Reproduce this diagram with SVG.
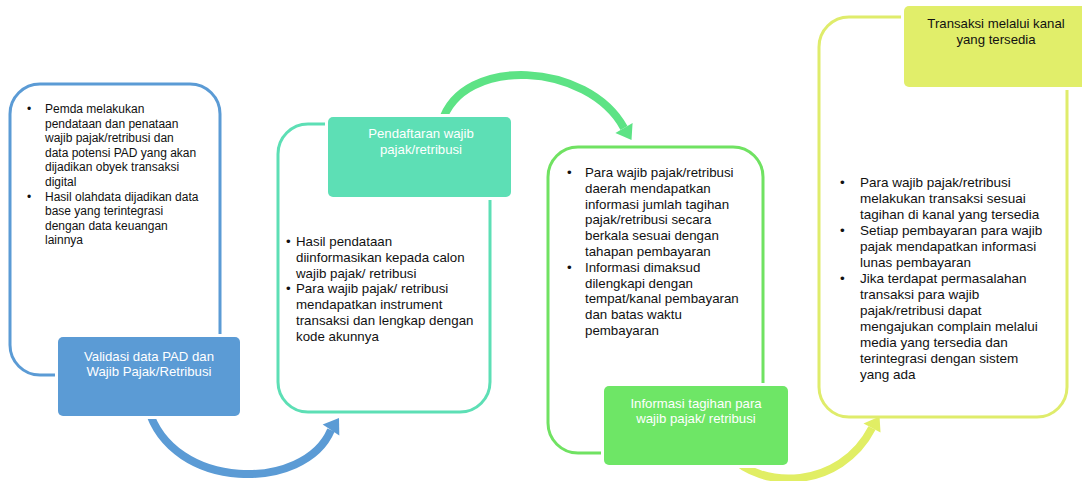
<svg xmlns="http://www.w3.org/2000/svg" width="1082" height="481" viewBox="0 0 1082 481">
<style>
text{font-family:"Liberation Sans",Arial,sans-serif;fill:#111}
.t1{font-size:12px}
.t2{font-size:13.3px}
.t4{font-size:13.5px}
.lbl{font-size:13.2px;text-anchor:middle;fill:#fff}
.lbl.dark{fill:#111}
.frame{fill:#fff;stroke-width:3}
.tab{stroke:#fff;stroke-width:6;paint-order:stroke}
.arc{fill:none;stroke-width:8}
</style>
<rect width="1082" height="481" fill="#fff"/>
<g id="connectors">
<path class="arc" stroke="#5B9BD5" d="M148,408 C172,492 305,492 331,430"/>
<polygon fill="#5B9BD5" points="322.7,424.4 339.3,435.6 339,418"/>
<path class="arc" stroke="#5DE385" d="M442,122 C462,55 588,62 624,128"/>
<polygon fill="#5DE385" points="615.4,133 632.6,123 631.5,140"/>
<path class="arc" stroke="#E1EE64" d="M730,455 C760,490 840,490 872,428"/>
<polygon fill="#E1EE64" points="863.5,423.5 880.5,432.5 879.5,416.5"/>
</g>
<g id="node1">
<rect class="frame" x="10" y="84" width="210" height="291" rx="30" stroke="#5B9BD5"/>
<g class="t1">
<text x="27" y="113">•</text><text x="45" y="113">Pemda melakukan</text>
<text x="45" y="127.6">pendataan dan penataan</text>
<text x="45" y="142.2">wajib pajak/retribusi dan</text>
<text x="45" y="156.8">data potensi PAD yang akan</text>
<text x="45" y="171.4">dijadikan obyek transaksi</text>
<text x="45" y="186">digital</text>
<text x="27" y="200.6">•</text><text x="45" y="200.6">Hasil olahdata dijadikan data</text>
<text x="45" y="215.2">base yang terintegrasi</text>
<text x="45" y="229.8">dengan data keuangan</text>
<text x="45" y="244.4">lainnya</text>
</g>
<rect class="tab" x="58" y="337" width="182" height="79" rx="5" fill="#5B9BD5"/>
<text class="lbl" x="149" y="360.5">Validasi data PAD dan</text>
<text class="lbl" x="149" y="375.5">Wajib Pajak/Retribusi</text>
</g>
<g id="node2">
<rect class="frame" x="278" y="124" width="212" height="288" rx="30" stroke="#5DDFB5"/>
<g class="t2">
<text x="286" y="246">•</text><text x="296" y="246">Hasil pendataan</text>
<text x="296" y="261.8">diinformasikan kepada calon</text>
<text x="296" y="277.6">wajib pajak/ retribusi</text>
<text x="286" y="293.4">•</text><text x="296" y="293.4">Para wajib pajak/ retribusi</text>
<text x="296" y="309.2">mendapatkan instrument</text>
<text x="296" y="325">transaksi dan lengkap dengan</text>
<text x="296" y="340.8">kode akunnya</text>
</g>
<rect class="tab" x="328" y="117" width="183" height="80" rx="5" fill="#5DDFB5"/>
<text class="lbl" x="421" y="138">Pendaftaran wajib</text>
<text class="lbl" x="421" y="154">pajak/retribusi</text>
</g>
<g id="node3">
<rect class="frame" x="548" y="147" width="215" height="306" rx="30" stroke="#70E262"/>
<g class="t2">
<text x="567" y="177">•</text><text x="585" y="177">Para wajib pajak/retribusi</text>
<text x="585" y="192.8">daerah mendapatkan</text>
<text x="585" y="208.6">informasi jumlah tagihan</text>
<text x="585" y="224.4">pajak/retribusi secara</text>
<text x="585" y="240.2">berkala sesuai dengan</text>
<text x="585" y="256">tahapan pembayaran</text>
<text x="567" y="271.8">•</text><text x="585" y="271.8">Informasi dimaksud</text>
<text x="585" y="287.6">dilengkapi dengan</text>
<text x="585" y="303.4">tempat/kanal pembayaran</text>
<text x="585" y="319.2">dan batas waktu</text>
<text x="585" y="335">pembayaran</text>
</g>
<rect class="tab" x="604" y="386" width="184" height="79" rx="5" fill="#6EE666"/>
<text class="lbl" x="696" y="408">Informasi tagihan para</text>
<text class="lbl" x="696" y="423">wajib pajak/ retribusi</text>
</g>
<g id="node4">
<rect class="frame" x="819" y="17" width="248" height="400" rx="30" stroke="#DFEC6B"/>
<g class="t4">
<text x="840" y="186.5">•</text><text x="860" y="186.5">Para wajib pajak/retribusi</text>
<text x="860" y="202.5">melakukan transaksi sesuai</text>
<text x="860" y="218.5">tagihan di kanal yang tersedia</text>
<text x="840" y="234.5">•</text><text x="860" y="234.5">Setiap pembayaran para wajib</text>
<text x="860" y="250.5">pajak mendapatkan informasi</text>
<text x="860" y="266.5">lunas pembayaran</text>
<text x="840" y="282.5">•</text><text x="860" y="282.5">Jika terdapat permasalahan</text>
<text x="860" y="298.5">transaksi para wajib</text>
<text x="860" y="314.5">pajak/retribusi dapat</text>
<text x="860" y="330.5">mengajukan complain melalui</text>
<text x="860" y="346.5">media yang tersedia dan</text>
<text x="860" y="362.5">terintegrasi dengan sistem</text>
<text x="860" y="378.5">yang ada</text>
</g>
<rect class="tab" x="904" y="6" width="185" height="81" rx="5" fill="#E1EE6A"/>
<text class="lbl dark" x="996" y="28">Transaksi melalui kanal</text>
<text class="lbl dark" x="996" y="44">yang tersedia</text>
</g>
</svg>
